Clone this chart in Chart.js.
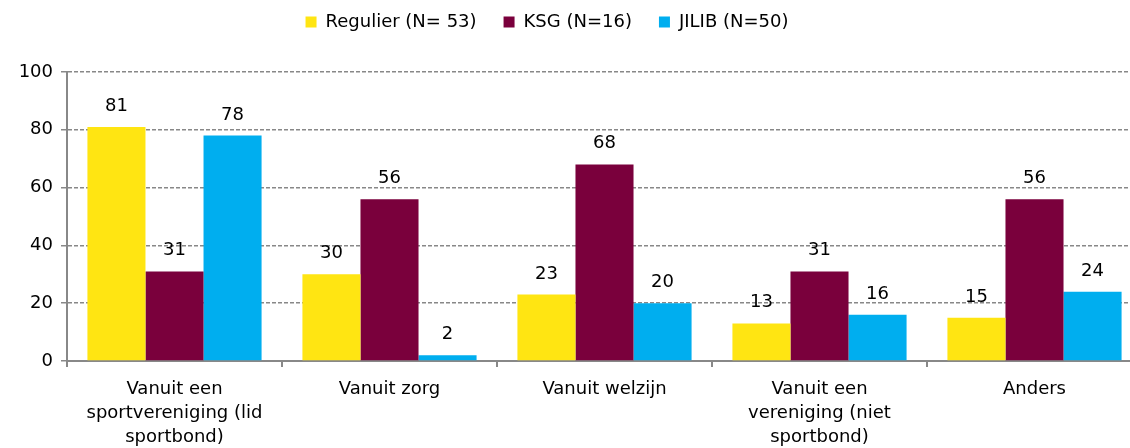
<!DOCTYPE html>
<html>
<head>
<meta charset="utf-8">
<script src="https://cdn.jsdelivr.net/npm/chart.js@4.4.1/dist/chart.umd.min.js"></script>
<style>
  html, body { margin: 0; padding: 0; background: #fff; overflow: hidden; }
  #wrap { width: 1142px; height: 448px; position: relative; }
</style>
</head>
<body>
<div id="wrap"><canvas id="chart"></canvas></div>
<script>
const categories = [
    ["Vanuit een", "sportvereniging (lid", "sportbond)"],
    "Vanuit zorg",
    "Vanuit welzijn",
    ["Vanuit een", "vereniging (niet", "sportbond)"],
    "Anders"
];
const regulier = [81, 30, 23, 13, 15];
const ksg = [31, 56, 68, 31, 56];
const jilib = [78, 2, 20, 16, 24];
const yTicks = [0, 20, 40, 60, 80, 100];

const FONT = "DejaVu Sans";

// labels above the bars
const valueLabels = {
    id: 'valueLabels',
    afterDatasetsDraw(chart) {
        const ctx = chart.ctx;
        ctx.save();
        ctx.font = "18px '" + FONT + "'";
        ctx.fillStyle = '#000';
        ctx.textAlign = 'center';
        ctx.textBaseline = 'alphabetic';
        chart.data.datasets.forEach((ds, i) => {
            chart.getDatasetMeta(i).data.forEach((bar, j) => {
                ctx.fillText(ds.data[j], bar.x, bar.y - 16);
            });
        });
        ctx.restore();
    }
};

// fixed legend height so the plot starts where the original does,
// and nudge the legend up/left like in the original
const legendPlace = {
    id: 'legendPlace',
    beforeInit(chart) {
        const fit = chart.legend.fit;
        chart.legend.fit = function () {
            fit.bind(chart.legend)();
            this.height = 72;
        };
    },
    afterLayout(chart) {
        const lg = chart.legend;
        lg.top -= 14;
        lg.left -= 24;
        lg.right -= 24;
    }
};

new Chart(document.getElementById("chart"), {
    type: 'bar',
    data: {
        labels: categories,
        datasets: [{
            label: "Regulier (N= 53)",
            data: regulier,
            backgroundColor: "#FFE512"
        }, {
            label: "KSG (N=16)",
            data: ksg,
            backgroundColor: "#7A003C"
        }, {
            label: "JILIB (N=50)",
            data: jilib,
            backgroundColor: "#00AEEF"
        }]
    },
    options: {
        responsive: true,
        maintainAspectRatio: false,
        animation: false,
        datasets: {
            bar: { categoryPercentage: 0.81, barPercentage: 1.0 }
        },
        layout: { padding: 0 },
        plugins: {
            legend: {
                position: 'top',
                labels: {
                    font: { family: FONT, size: 18 },
                    color: '#000',
                    boxWidth: 11,
                    boxHeight: 11,
                    padding: 27
                }
            },
            tooltip: { enabled: false }
        },
        scales: {
            x: {
                grid: {
                    offset: true,
                    drawOnChartArea: false,
                    drawTicks: true,
                    tickLength: 6,
                    color: '#888',
                    lineWidth: 2
                },
                border: { color: '#888', width: 2 },
                ticks: {
                    font: { family: FONT, size: 18, lineHeight: 1.33 },
                    color: '#000',
                    maxRotation: 0,
                    autoSkip: false,
                    padding: 10
                },
                afterFit(scale) { scale.height = 87; }
            },
            y: {
                min: 0,
                max: 100,
                afterBuildTicks(scale) {
                    scale.ticks = yTicks.map(v => ({ value: v }));
                },
                grid: {
                    color: '#888',
                    lineWidth: 1.5,
                    tickLength: 6,
                    tickBorderDash: []
                },
                border: { color: '#888', width: 2, dash: [4, 2] },
                ticks: {
                    font: { family: FONT, size: 18 },
                    color: '#000',
                    padding: 8
                },
                afterFit(scale) { scale.width = 67; }
            }
        }
    },
    plugins: [valueLabels, legendPlace]
});
</script>
</body>
</html>
